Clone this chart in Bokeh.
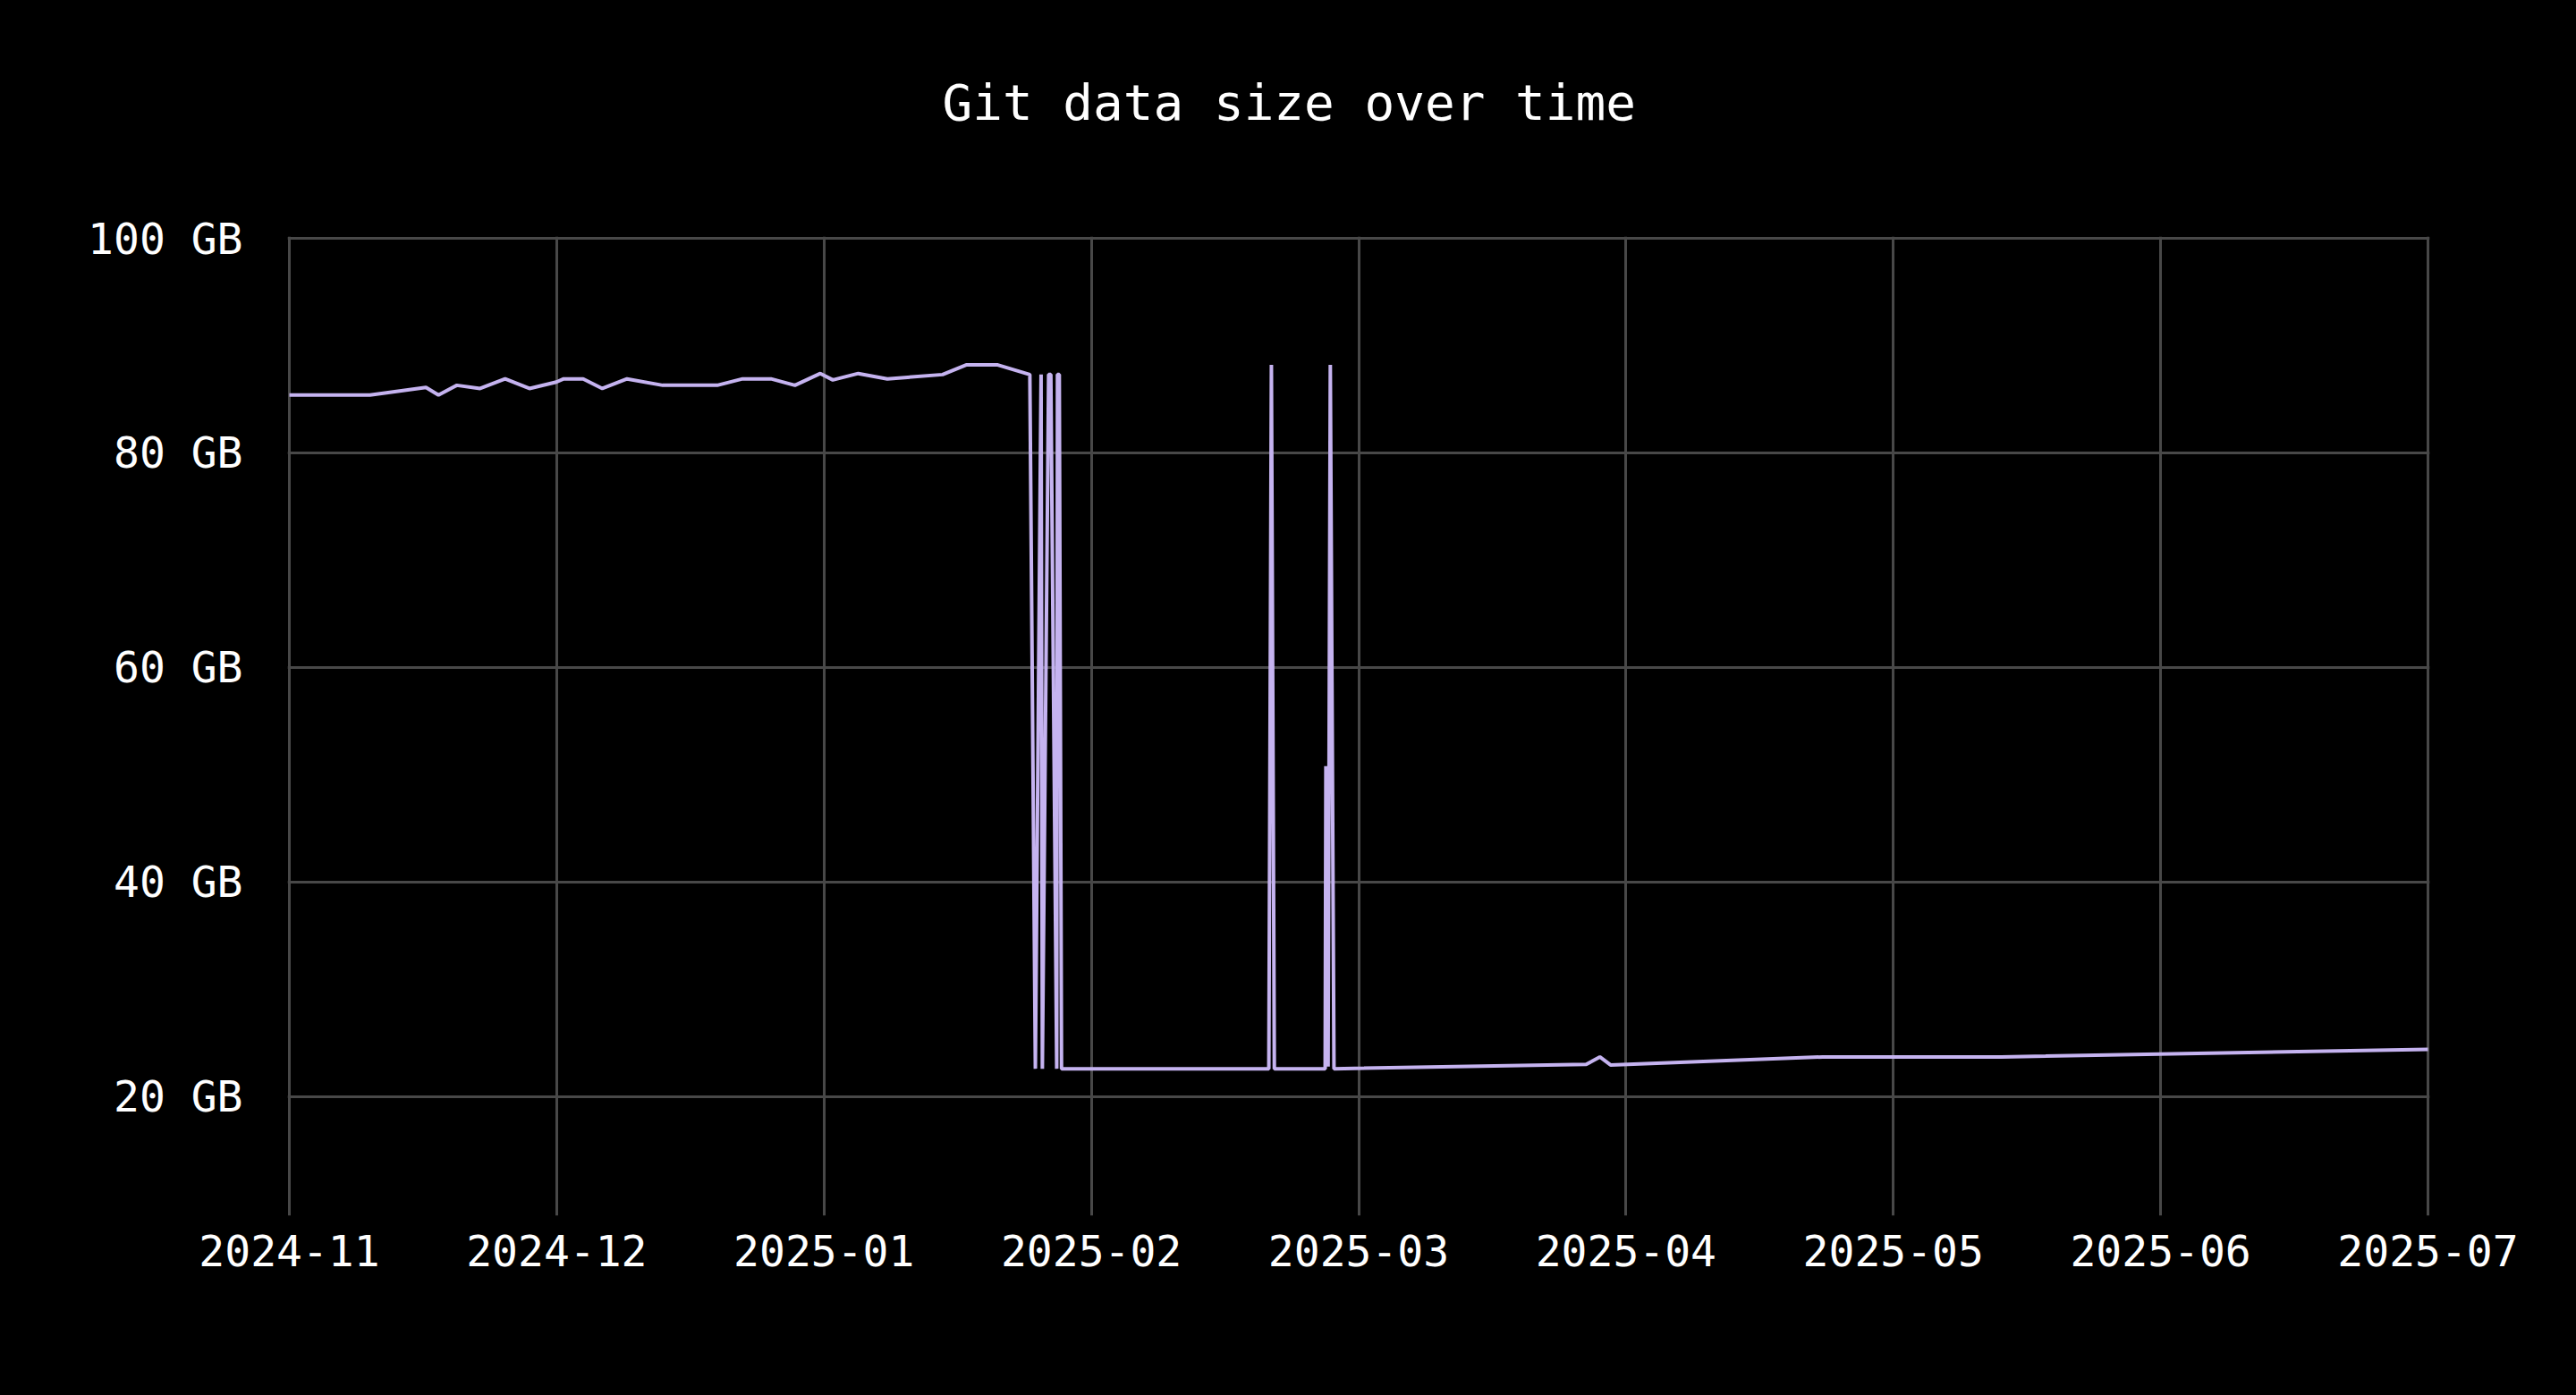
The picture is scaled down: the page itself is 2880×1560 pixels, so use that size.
import pandas as pd
from bokeh.plotting import figure
from bokeh.models import Range1d, FixedTicker, ColumnDataSource, GlobalInlineStyleSheet
from bokeh.embed import file_html
from bokeh.resources import INLINE

title_text = "Git data size over time"

dates = [
    "2024-11-01 00:00", "2024-11-10 03:00", "2024-11-16 11:00", "2024-11-17 21:00",
    "2024-11-19 23:00", "2024-11-22 14:00", "2024-11-25 10:00", "2024-11-28 04:00",
    "2024-12-01 05:00", "2024-12-02 01:00", "2024-12-04 06:00", "2024-12-06 10:00",
    "2024-12-09 05:00", "2024-12-13 06:00", "2024-12-19 10:00", "2024-12-22 07:00",
    "2024-12-25 12:00", "2024-12-28 05:00", "2024-12-31 02:00", "2025-01-01 12:00",
    "2025-01-04 09:00", "2025-01-07 16:00", "2025-01-13 22:00", "2025-01-16 14:00",
    "2025-01-20 04:00", "2025-01-23 19:00", "2025-01-24 10:00", "2025-01-25 01:30",
    "2025-01-25 05:00", "2025-01-25 22:00", "2025-01-26 04:00", "2025-01-26 20:00",
    "2025-01-26 22:00", "2025-01-27 03:00", "2025-01-27 09:00", "2025-02-19 20:00",
    "2025-02-20 03:00", "2025-02-20 11:00", "2025-02-26 05:00", "2025-02-26 07:00",
    "2025-02-26 13:00", "2025-02-26 19:00", "2025-02-27 05:00", "2025-03-27 18:00",
    "2025-03-29 07:00", "2025-03-30 12:00", "2025-04-23 12:00", "2025-05-13 17:00",
    "2025-07-01 00:00",
]
sizes_gb = [
    85.4, 85.4, 86.1, 85.4,
    86.3, 86.0, 86.9, 86.0,
    86.6, 86.9, 86.9, 86.0,
    86.9, 86.3, 86.3, 86.9,
    86.9, 86.3, 87.4, 86.8,
    87.4, 86.9, 87.3, 88.2,
    88.2, 87.3, 22.6, 87.3,
    22.6, 87.3, 87.3, 22.6,
    87.3, 87.3, 22.6, 22.6,
    88.2, 22.6, 22.6, 50.8,
    22.8, 88.2, 22.6, 23.0,
    23.7, 22.95, 23.7, 23.7,
    24.4,
]
month_labels = ["2024-11", "2024-12", "2025-01", "2025-02", "2025-03",
                "2025-04", "2025-05", "2025-06", "2025-07"]
y_ticks = [20, 40, 60, 80, 100]
y_tick_labels = ["20 GB", "40 GB", "60 GB", "80 GB", "100 GB"]

x_start = pd.Timestamp("2024-11-01")
x_end = pd.Timestamp("2025-07-01")
y_min, y_max = 8.9, 100.0

start_ms = int(x_start.value // 10**6)
end_ms = int(x_end.value // 10**6)

# small padding (about 2 px) so the edge grid lines are drawn in full
frame_w, frame_h = 2391, 1093
pad_x = 2 * (end_ms - start_ms) / frame_w
pad_y = 2 * (y_max - y_min) / frame_h

source = ColumnDataSource(data=dict(x=pd.to_datetime(dates), y=sizes_gb))

p = figure(
    width=2864, height=1544,
    x_axis_type="datetime",
    x_range=Range1d(start_ms - pad_x, end_ms + pad_x),
    y_range=Range1d(y_min, y_max + pad_y),
    output_backend="svg", toolbar_location=None,
    min_border_left=321, min_border_right=148,
    min_border_top=264, min_border_bottom=185,
    background_fill_color="black", border_fill_color="black",
    outline_line_color=None,
)
p.stylesheets = [GlobalInlineStyleSheet(css="html, body { background-color: #000000; }")]

# title, with an empty second line so that it sits higher above the frame
p.title.text = title_text + "\n"
p.title.vertical_align = "top"
p.title.text_color = "white"
p.title.text_font = "DejaVu Sans Mono"
p.title.text_font_style = "normal"
p.title.text_font_size = "56px"
p.title.standoff = 101
p.title.align = "left"
p.title.offset = 732

n = len(month_labels) - 1
step = (end_ms - start_ms) // n
x_tick_vals = [start_ms + i * step for i in range(n + 1)]

xt = FixedTicker(ticks=x_tick_vals)
yt = FixedTicker(ticks=y_ticks)
p.xaxis.ticker = xt
p.xgrid.ticker = xt
p.yaxis.ticker = yt
p.ygrid.ticker = yt
p.xaxis.major_label_overrides = {v: lab for v, lab in zip(x_tick_vals, month_labels)}
p.yaxis.major_label_overrides = {v: lab for v, lab in zip(y_ticks, y_tick_labels)}

for ax in (p.xaxis, p.yaxis):
    ax.axis_line_color = None
    ax.major_tick_line_color = None
    ax.minor_tick_line_color = None
    ax.major_tick_out = 0
    ax.major_tick_in = 0
    ax.major_label_text_color = "white"
    ax.major_label_text_font = "DejaVu Sans Mono"
    ax.major_label_text_font_size = "48px"
p.xaxis.major_label_standoff = 21
p.yaxis.major_label_standoff = 50

for g in (p.xgrid, p.ygrid):
    g.grid_line_color = "#484848"
    g.grid_line_width = 3

p.line("x", "y", source=source, line_color="#c5b3f0", line_width=4)

open("out.html", "w").write(file_html(p, INLINE))
